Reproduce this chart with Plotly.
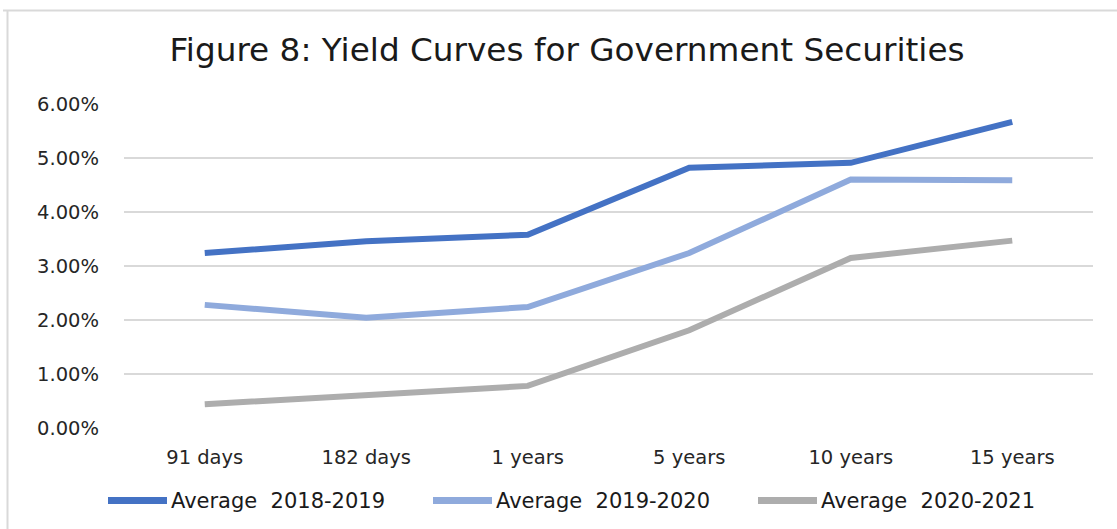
import plotly.graph_objects as go

# Tenors on the x axis
tenors = ["91 days", "182 days", "1 years", "5 years", "10 years", "15 years"]

# Average yields (as fractions) for each period
yield_2018_2019 = [0.0324, 0.0346, 0.0358, 0.0482, 0.0491, 0.0567]
yield_2019_2020 = [0.0228, 0.0204, 0.0224, 0.0324, 0.0460, 0.0459]
yield_2020_2021 = [0.0044, 0.0061, 0.0078, 0.0181, 0.0315, 0.0347]

series_names = ["Average\u00a0 2018-2019", "Average\u00a0 2019-2020", "Average\u00a0 2020-2021"]
series_colors = ["#4472C4", "#8FAADC", "#ADADAD"]
y_ticks = [0.0, 0.01, 0.02, 0.03, 0.04, 0.05, 0.06]

W, H = 1117, 529
L, R, T, B = 124, 24, 104, 101
pw, ph = W - L - R, H - T - B


def px_x(x):
    return (x - L) / pw


def px_y(y):
    return (H - B - y) / ph


fig = go.Figure()
for name, vals, color in zip(series_names, [yield_2018_2019, yield_2019_2020, yield_2020_2021], series_colors):
    fig.add_trace(go.Scatter(
        x=tenors, y=vals, mode="lines", name=name,
        line=dict(color=color, width=6), showlegend=False,
    ))

shapes = []
annotations = []

# Outer chart border (top and left edges)
border = "#D9D9D9"
shapes.append(dict(type="line", xref="paper", yref="paper",
                   x0=px_x(3), x1=px_x(1130), y0=px_y(10.5), y1=px_y(10.5),
                   line=dict(color=border, width=2)))
shapes.append(dict(type="line", xref="paper", yref="paper",
                   x0=px_x(7.5), x1=px_x(7.5), y0=px_y(10.5), y1=px_y(540),
                   line=dict(color=border, width=2)))

# Legend drawn as swatches + labels beneath the axis
leg_y = px_y(500.5)
for i, (name, color) in enumerate(zip(series_names, series_colors)):
    x0 = 105 + 325 * i
    shapes.append(dict(type="line", xref="paper", yref="paper",
                       x0=px_x(x0 + 3), x1=px_x(x0 + 62), y0=leg_y, y1=leg_y,
                       line=dict(color=color, width=7)))
    annotations.append(dict(xref="paper", yref="paper", x=px_x(x0 + 64), y=leg_y,
                            text=name, showarrow=False, xanchor="left", yanchor="middle",
                            font=dict(family="DejaVu Sans", size=21, color="#1a1a1a")))

fig.update_layout(
    width=W, height=H,
    margin=dict(l=L, r=R, t=T, b=B, pad=0),
    paper_bgcolor="white", plot_bgcolor="white",
    title=dict(text="Figure 8: Yield Curves for Government Securities",
               xref="container", yref="container", x=567 / W, y=1 - 50 / H,
               xanchor="center", yanchor="middle",
               font=dict(family="DejaVu Sans", size=32.7, color="#1a1a1a")),
    xaxis=dict(type="category", range=[-0.5, 5.5], showgrid=False, zeroline=False,
               showline=False, ticks="", ticklabelstandoff=15,
               tickfont=dict(family="DejaVu Sans", size=19.5, color="#262626")),
    yaxis=dict(range=[0, 0.06], tickvals=y_ticks, tickformat=".2%",
               showgrid=True, gridcolor="#D9D9D9", gridwidth=2, zeroline=False,
               showline=False, ticks="", ticklabelstandoff=24,
               tickfont=dict(family="DejaVu Sans", size=19.5, color="#262626")),
    shapes=shapes, annotations=annotations,
)

fig.write_html("out.html")
